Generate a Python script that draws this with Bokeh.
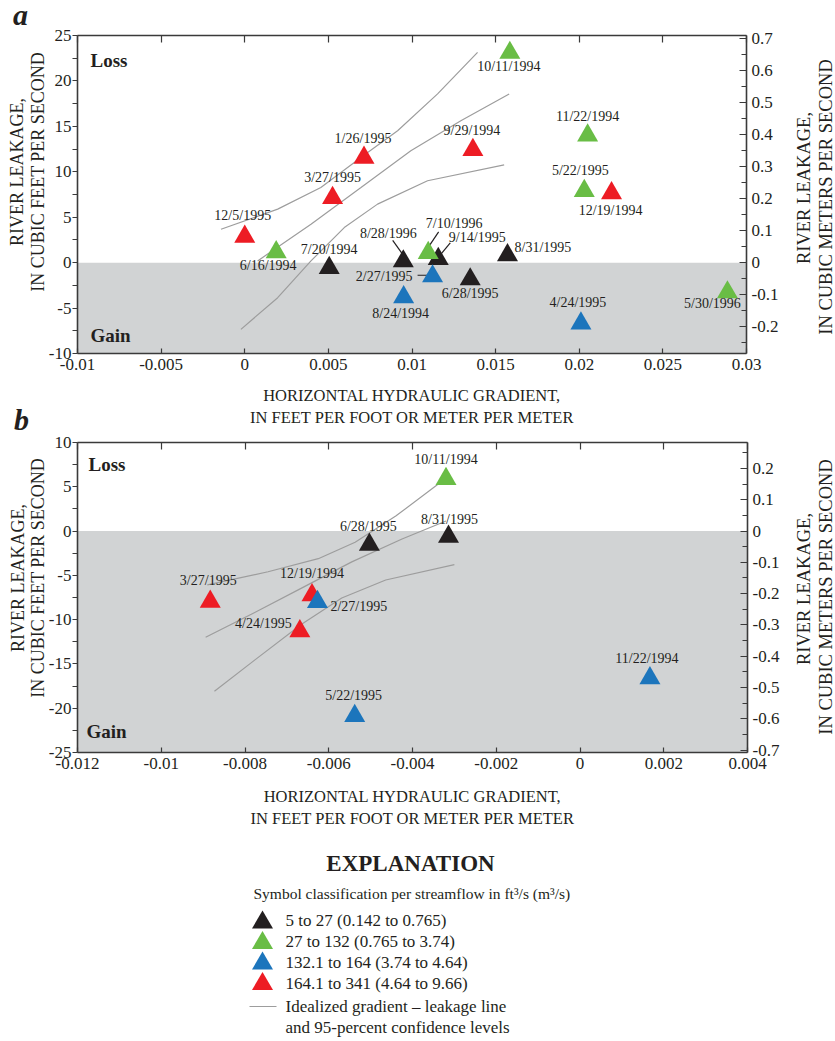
import math
from bokeh.plotting import figure
from bokeh.models import Range1d, LinearAxis, FixedTicker, BoxAnnotation, Label, ColumnDataSource, Div
from bokeh.layouts import column, row
from bokeh.embed import file_html
from bokeh.resources import INLINE
from bokeh.core.properties import value

FONT = "Liberation Serif"
CFS_TO_CMS = 0.0283168
INK = "#231f20"
AXIS = "#3a3a3a"
SHADE = "#d1d3d4"
CURVE = "#9d9d9d"

# ---------------- classes ----------------
class_labels = ["5 to 27 (0.142 to 0.765)", "27 to 132 (0.765 to 3.74)",
                "132.1 to 164 (3.74 to 4.64)", "164.1 to 341 (4.64 to 9.66)"]
class_colors = ["#231f20", "#69bd45", "#1c75bc", "#ed1c24"]
draw_order = [0, 1, 3, 2]

# ---------------- panel a data ----------------
a_dates = ["10/11/1994", "11/22/1994", "9/29/1994", "5/22/1995", "12/19/1994", "1/26/1995",
           "3/27/1995", "12/5/1995", "6/16/1994", "7/20/1994", "8/28/1996", "7/10/1996",
           "9/14/1995", "8/31/1995", "2/27/1995", "6/28/1995", "8/24/1994", "4/24/1995", "5/30/1996"]
a_x = [0.01585, 0.0205, 0.01364, 0.0203, 0.02193, 0.00713, 0.00525, 0.0, 0.00188, 0.00505,
       0.00948, 0.01097, 0.01157, 0.01571, 0.01123, 0.01348, 0.0095, 0.0201, 0.02886]
a_y = [23.1, 14.0, 12.4, 7.9, 7.65, 11.55, 7.13, 2.87, 1.15, -0.58, 0.15, 1.07, 0.41, 0.82,
       -1.5, -1.83, -3.8, -6.68, -3.26]
a_cls = [1, 1, 3, 1, 3, 3, 3, 3, 1, 0, 0, 1, 0, 0, 2, 0, 2, 2, 1]

a_upper_x = [-0.00142, 0.00197, 0.00455, 0.00735, 0.00914, 0.01153, 0.01392]
a_upper_y = [3.68, 5.89, 8.27, 12.13, 14.52, 18.57, 23.15]
a_mid_x = [0.00077, 0.00396, 0.00695, 0.00993, 0.01292, 0.01581]
a_mid_y = [0.19, 4.23, 8.27, 12.32, 15.62, 18.57]
a_lower_x = [-0.00023, 0.00197, 0.00396, 0.00595, 0.00794, 0.01093, 0.01551]
a_lower_y = [-7.34, -3.86, 0.19, 3.86, 6.44, 9.01, 10.77]

a_xtick_labels = ["-0.01", "-0.005", "0", "0.005", "0.01", "0.015", "0.02", "0.025", "0.03"]
a_ytick_labels = ["-10", "-5", "0", "5", "10", "15", "20", "25"]
a_yminor = [-7.5, -2.5, 2.5, 7.5, 12.5, 17.5, 22.5]
a_rtick_labels = ["-0.2", "-0.1", "0", "0.1", "0.2", "0.3", "0.4", "0.5", "0.6", "0.7"]
a_rminor = [-0.25, -0.15, -0.05, 0.05, 0.15, 0.25, 0.35, 0.45, 0.55, 0.65]

# ---------------- panel b data ----------------
b_dates = ["10/11/1994", "8/31/1995", "6/28/1995", "3/27/1995", "12/19/1994", "2/27/1995",
           "4/24/1995", "5/22/1995", "11/22/1994"]
b_x = [-0.0032, -0.00314, -0.00503, -0.00883, -0.0064, -0.00627, -0.00669, -0.00538, 0.00167]
b_y = [5.89, -0.63, -1.54, -7.96, -7.24, -8.0, -11.31, -20.86, -16.61]
b_cls = [1, 0, 0, 3, 3, 2, 3, 2, 2]

b_upper_x = [-0.0089, -0.00745, -0.00625, -0.00537, -0.0044, -0.00336]
b_upper_y = [-6.08, -4.59, -3.12, -1.26, 1.69, 5.39]
b_mid_x = [-0.00894, -0.00785, -0.00665, -0.00545, -0.00425, -0.0032]
b_mid_y = [-11.99, -9.4, -6.44, -3.48, -0.9, 1.13]
b_lower_x = [-0.00873, -0.00777, -0.00665, -0.00569, -0.00464, -0.003]
b_lower_y = [-18.09, -14.57, -10.51, -7.55, -5.52, -3.78]

b_xtick_labels = ["-0.012", "-0.01", "-0.008", "-0.006", "-0.004", "-0.002", "0", "0.002", "0.004"]
b_ytick_labels = ["-25", "-20", "-15", "-10", "-5", "0", "5", "10"]
b_yminor = [-22.5, -17.5, -12.5, -7.5, -2.5, 2.5, 7.5]
b_rtick_labels = ["-0.7", "-0.6", "-0.5", "-0.4", "-0.3", "-0.2", "-0.1", "0", "0.1", "0.2"]
b_rminor = [-0.65, -0.55, -0.45, -0.35, -0.25, -0.15, -0.05, 0.05, 0.15, 0.25]

# ---------------- text ----------------
X_TITLE = "HORIZONTAL HYDRAULIC GRADIENT,\nIN FEET PER FOOT OR METER PER METER"
Y_TITLE = ["RIVER LEAKAGE,", "IN CUBIC FEET PER SECOND"]
R_TITLE = ["RIVER LEAKAGE,", "IN CUBIC METERS PER SECOND"]
panel_letters = ["a", "b"]
leg_title = "EXPLANATION"
leg_subtitle = "Symbol classification per streamflow in ft\u00b3/s (m\u00b3/s)"
leg_line_text = ["Idealized gradient \u2013 leakage line", "and 95-percent confidence levels"]

# ---------------- layout (screen px, not data) ----------------
a_lab_dx = [-1, 0, -1, -4, -1, -1, 0, -2, -8, 0, -15, 26, 39, 7, -20, 0, -3, -3, -15]
a_lab_dy = [14, -19, -19, -20, 17, -19, -20, -21, 13, -18, -28, -29, -21, -8, 0, 14, 16, -21, 11]
a_lab_align = ["center"] * 13 + ["left", "right"] + ["center"] * 4
a_leaders = [(10, -10.6, -21, -0.6, -7), (11, 10.4, -21, 1, -7),
             (12, 12, -16, 2.7, -4.7), (14, -15, -1, -5, -1)]
b_lab_dx = [0, 1, -1, -2, 0, 13, -8, -1, -3]
b_lab_dy = [-19, -17, -18, -21, -22, 5, -8, -20, -20]
b_lab_align = ["center"] * 5 + ["left", "right"] + ["center"] * 2

W_TOTAL = 835
LEFT_W = 44
RIGHT_W = 50
MAIN_W = W_TOTAL - LEFT_W - RIGHT_W
HA, HB, HL = 432, 399, 210
CSS_FONT = "font-family:'Liberation Serif','Times New Roman',serif"


def ticks_from(labels):
    return [float(s) for s in labels]


def style_axis(ax, labels, minor, tin, tout, mtin, mtout, show=True, standoff=3):
    ticks = ticks_from(labels)
    ax.ticker = FixedTicker(ticks=ticks, minor_ticks=minor)
    ov = {}
    for t, l in zip(ticks, labels):
        ov[t] = l if show else ""
        ov[l] = l if show else ""
    ax.major_label_overrides = ov
    ax.axis_line_color = AXIS
    ax.axis_line_width = 1.6
    ax.major_tick_line_color = AXIS
    ax.major_tick_line_width = 1.2
    ax.minor_tick_line_color = AXIS
    ax.minor_tick_line_width = 1.2
    ax.major_tick_in = tin
    ax.major_tick_out = tout
    ax.minor_tick_in = mtin
    ax.minor_tick_out = mtout
    ax.major_label_text_font = FONT
    ax.major_label_text_font_size = "17px" if show else "0px"
    ax.major_label_text_color = INK
    ax.major_label_standoff = standoff if show else 0
    ax.axis_label_text_font = FONT
    ax.axis_label_text_font_size = "16.5px"
    ax.axis_label_text_font_style = "normal"
    ax.axis_label_text_color = INK


def svg_strip(width, height, vlines, letters=()):
    """vlines: (text, baseline_x, center_y, size); letters: (text, x, baseline_y)."""
    parts = ['<svg xmlns="http://www.w3.org/2000/svg" width="%d" height="%d" '
             'style="display:block;overflow:visible">' % (width, height)]
    for t, bx, cy, size in vlines:
        parts.append('<text x="%.1f" y="%.1f" transform="rotate(-90 %.1f %.1f)" '
                     'text-anchor="middle" style="%s;font-size:%s;font-weight:normal;'
                     'font-style:normal;fill:%s">%s</text>'
                     % (bx, cy, bx, cy, CSS_FONT, size, INK, t))
    for t, x, by in letters:
        parts.append('<text x="%.1f" y="%.1f" style="%s;font-size:30px;font-weight:bold;'
                     'font-style:italic;fill:%s">%s</text>' % (x, by, CSS_FONT, INK, t))
    parts.append('</svg>')
    return Div(text="".join(parts), width=width, height=height,
               styles={"margin": "0", "padding": "0", "overflow": "visible",
                       "font-family": "'Liberation Serif', serif"})


def make_panel(h, bl, br, bt, bb, xr, yr, xl, yl, ym, rl, rm, xs, ys, cls, dates,
               ldx, ldy, lal, curves, leaders, lossgain, xlab_standoff):
    x0, x1 = xr
    y0, y1 = yr
    p = figure(width=MAIN_W, height=h, x_range=Range1d(x0, x1), y_range=Range1d(y0, y1),
               output_backend="svg", toolbar_location=None, tools="",
               min_border_left=bl, min_border_right=br, min_border_top=bt, min_border_bottom=bb)
    p.xgrid.visible = False
    p.ygrid.visible = False
    p.outline_line_color = None
    p.border_fill_alpha = 0
    fw = MAIN_W - bl - br
    fh = h - bt - bb
    sx = fw / (x1 - x0)
    sy = fh / (y1 - y0)

    p.add_layout(BoxAnnotation(top=0, fill_color=SHADE, fill_alpha=1.0, line_color=None,
                               level="underlay"))

    style_axis(p.xaxis[0], xl, [], 5, 0, 0, 0, standoff=5)
    p.xaxis[0].axis_label = X_TITLE
    p.xaxis[0].axis_label_standoff = xlab_standoff
    style_axis(p.yaxis[0], yl, ym, 0, 5, 0, 5, standoff=1)
    top = LinearAxis()
    style_axis(top, xl, [], 7, 0, 0, 0, show=False)
    p.add_layout(top, "above")
    p.extra_y_ranges = {"cms": Range1d(y0 * CFS_TO_CMS, y1 * CFS_TO_CMS)}
    right = LinearAxis(y_range_name="cms")
    style_axis(right, rl, rm, 7, 0, 5, 0, standoff=5)
    p.add_layout(right, "right")

    for cx, cy in curves:
        p.line(cx, cy, line_color=CURVE, line_width=1.2)

    if leaders:
        lx0, ly0, lx1, ly1 = [], [], [], []
        for i, dx0, dy0, dx1, dy1 in leaders:
            lx0.append(xs[i] + dx0 / sx)
            ly0.append(ys[i] - dy0 / sy)
            lx1.append(xs[i] + dx1 / sx)
            ly1.append(ys[i] - dy1 / sy)
        p.segment(lx0, ly0, lx1, ly1, line_color=INK, line_width=1.2)

    for c in draw_order:
        idx = [i for i, k in enumerate(cls) if k == c]
        if not idx:
            continue
        p.scatter([xs[i] for i in idx], [ys[i] for i in idx], marker="triangle", size=21,
                  fill_color=class_colors[c], line_color=None)

    for al in ("center", "left", "right"):
        idx = [i for i, a in enumerate(lal) if a == al]
        if not idx:
            continue
        src = ColumnDataSource(dict(x=[xs[i] for i in idx], y=[ys[i] for i in idx],
                                    t=[dates[i] for i in idx], dx=[ldx[i] for i in idx],
                                    dy=[ldy[i] for i in idx]))
        p.text(x="x", y="y", text="t", x_offset="dx", y_offset="dy", source=src,
               text_align=al, text_baseline="middle", text_font=value(FONT),
               text_font_size="14px", text_color=INK)

    lo_dx, lo_dy, ga_dx, ga_dy = lossgain
    p.add_layout(Label(x=x0 + lo_dx / sx, y=y1 - lo_dy / sy, text="Loss", text_font=FONT,
                       text_font_size="19px", text_font_style="bold", text_color=INK,
                       text_baseline="middle", text_align="left"))
    p.add_layout(Label(x=x0 + ga_dx / sx, y=y0 + ga_dy / sy, text="Gain", text_font=FONT,
                       text_font_size="19px", text_font_style="bold", text_color=INK,
                       text_baseline="middle", text_align="left"))
    return p


fa = make_panel(HA, 33, 39, 35, 79, (-0.01, 0.03), (-10, 25),
                a_xtick_labels, a_ytick_labels, a_yminor, a_rtick_labels, a_rminor,
                a_x, a_y, a_cls, a_dates, a_lab_dx, a_lab_dy, a_lab_align,
                [(a_upper_x, a_upper_y), (a_mid_x, a_mid_y), (a_lower_x, a_lower_y)],
                a_leaders, (13, 25, 13, 18), 13)

fb = make_panel(HB, 33, 38, 10, 74, (-0.012, 0.004), (-25, 10),
                b_xtick_labels, b_ytick_labels, b_yminor, b_rtick_labels, b_rminor,
                b_x, b_y, b_cls, b_dates, b_lab_dx, b_lab_dy, b_lab_align,
                [(b_upper_x, b_upper_y), (b_mid_x, b_mid_y), (b_lower_x, b_lower_y)],
                [], (11, 22, 9, 21), 15)

# side strips: panel letters and vertical axis titles (pixel positions within each strip)
la = svg_strip(LEFT_W, HA,
               [(Y_TITLE[0], 23, 172, "18px"), (Y_TITLE[1], 43.5, 172, "18px")],
               [(panel_letters[0], 13, 25), (panel_letters[1], 14, 430)])
ra = svg_strip(RIGHT_W, HA,
               [(R_TITLE[0], 24.5, 188, "18.5px"), (R_TITLE[1], 47, 197, "18.5px")])
lb = svg_strip(LEFT_W, HB,
               [(Y_TITLE[0], 24, 578 - HA, "18px"), (Y_TITLE[1], 44, 578 - HA, "18px")])
rb = svg_strip(RIGHT_W, HB,
               [(R_TITLE[0], 24.5, 589 - HA, "18.5px"), (R_TITLE[1], 47, 597 - HA, "18.5px")])

# ---------------- explanation ----------------
leg = figure(width=W_TOTAL, height=HL, x_range=Range1d(0, W_TOTAL), y_range=Range1d(HL, 0),
             output_backend="svg", toolbar_location=None, tools="", min_border=0,
             x_axis_type=None, y_axis_type=None)
leg.outline_line_color = None
leg.grid.visible = False

sym_x = 262
sym_y = [91, 111.5, 132, 152.5]
txt_x = 285
txt_y = [89, 109.5, 131, 152]
line_y = 175
line_txt_y = [175, 196]

leg.text(x=[410], y=[32], text=[leg_title], text_align="center", text_baseline="middle",
         text_font=value(FONT), text_font_size="23px", text_font_style="bold", text_color=INK)
leg.text(x=[253], y=[62], text=[leg_subtitle], text_align="left", text_baseline="middle",
         text_font=value(FONT), text_font_size="15.5px", text_color=INK)
leg.scatter([sym_x] * 4, sym_y, marker="triangle", size=21, fill_color=class_colors,
            line_color=None)
leg.text(x=[txt_x] * 4, y=txt_y, text=class_labels, text_align="left", text_baseline="middle",
         text_font=value(FONT), text_font_size="17px", text_color=INK)
leg.line([249, 276], [line_y, line_y], line_color=CURVE, line_width=1.2)
leg.text(x=[txt_x] * 2, y=line_txt_y, text=leg_line_text, text_align="left",
         text_baseline="middle", text_font=value(FONT), text_font_size="17px", text_color=INK)

layout = column(row(la, fa, ra, spacing=0), row(lb, fb, rb, spacing=0), leg, spacing=0)
open("out.html", "w").write(file_html(layout, INLINE))
